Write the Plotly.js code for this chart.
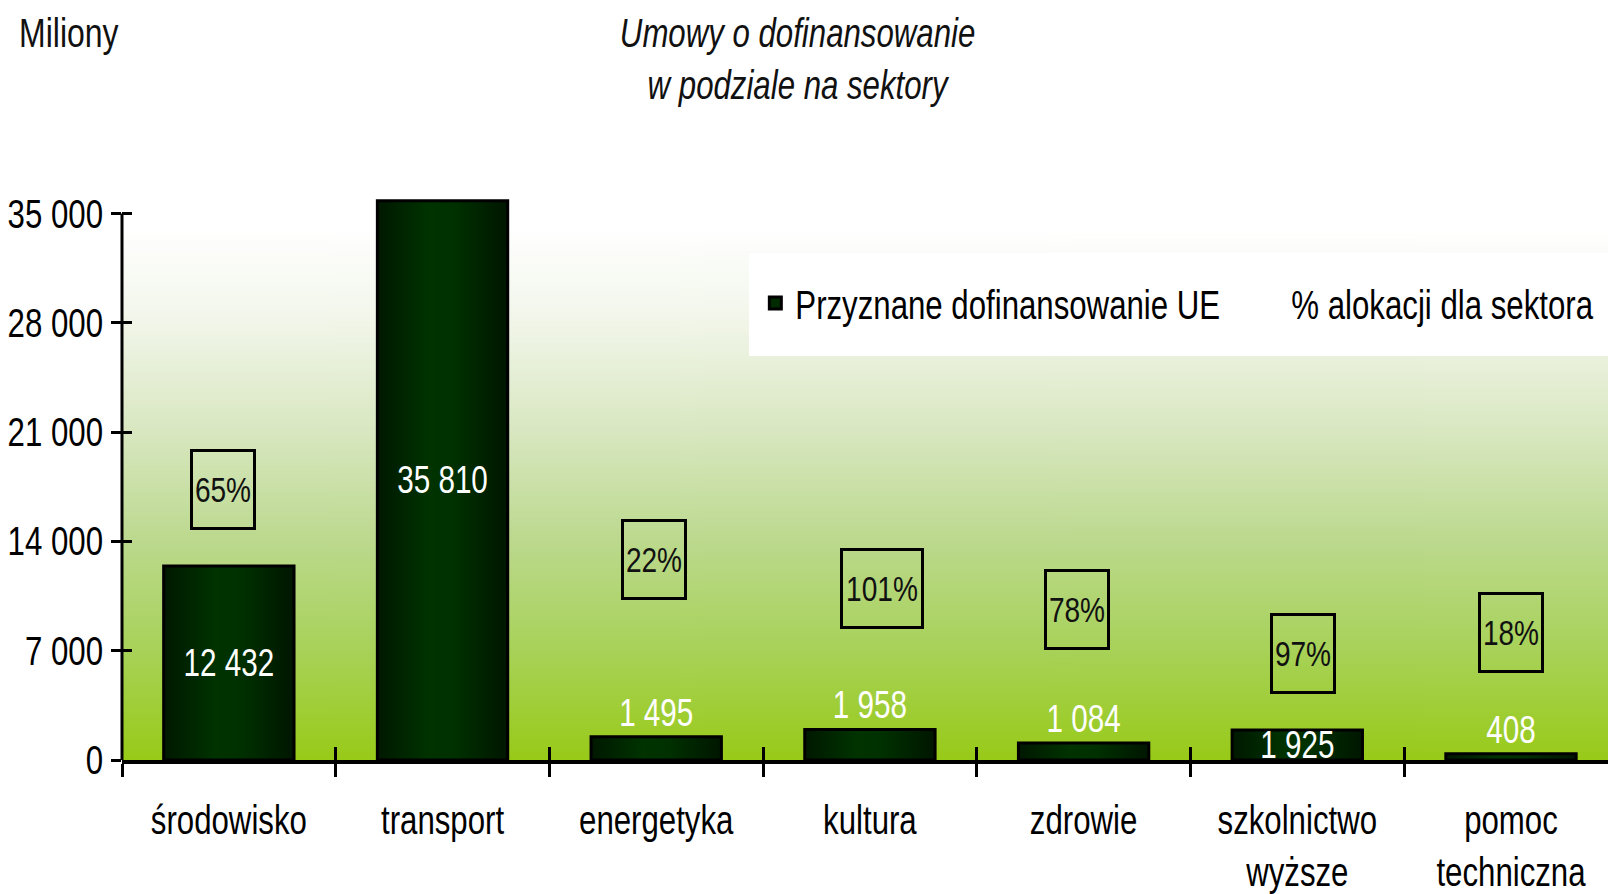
<!DOCTYPE html>
<html><head><meta charset="utf-8">
<script src="https://cdn.plot.ly/plotly-3.0.1.min.js"></script>
<style>html,body{margin:0;padding:0;background:#fff}#chart{width:1608px;height:894px}</style>
</head><body><div id="chart"></div>
<script>
// ---- data ----
const categories = ['środowisko', 'transport', 'energetyka', 'kultura', 'zdrowie', 'szkolnictwo<br>wyższe', 'pomoc<br>techniczna'];
const fundingEU = [12432, 35810, 1495, 1958, 1084, 1925, 408];
const allocationPct = [65, 47, 22, 101, 78, 97, 18];
const yTickVals = [0, 7000, 14000, 21000, 28000, 35000];
const seriesNames = ['Przyznane dofinansowanie UE', '% alokacji dla sektora'];
const titleLines = ['Umowy o dofinansowanie', 'w podziale na sektory'];
const unitLabel = 'Miliony';

// ---- label placement (layout only) ----
const valueLabelPos = ['inside', 'inside', 'outside', 'outside', 'outside', 'inside', 'outside'];
const pctBoxY = [17356, 38683, 12873, 10952, 9671, 6853, 8134];
const pctBoxShift = [-6, -5, -2, 12, -7, 6, 0];

const FONT = '"Liberation Sans", Arial, sans-serif';
const SX = 0.78; // horizontal condensing of all text (narrow face look)
const X_RANGE = [-0.5, 6.454];
const Y_RANGE = [0, 36185];

// background gradient for the plot area
const cv = document.createElement('canvas');
cv.width = 4; cv.height = 565;
const ctx = cv.getContext('2d');
const grd = ctx.createLinearGradient(0, 0, 0, 565);
grd.addColorStop(0.0, '#ffffff');
grd.addColorStop(0.06, '#ffffff');
grd.addColorStop(0.22, '#f2f6ea');
grd.addColorStop(0.42, '#d8e7c0');
grd.addColorStop(0.61, '#bcd98e');
grd.addColorStop(0.80, '#a8d25a');
grd.addColorStop(1.0, '#98ca18');
ctx.fillStyle = grd;
ctx.fillRect(0, 0, 4, 565);
const bgURL = cv.toDataURL('image/png');

const traces = [
  {
    type: 'bar',
    x: categories,
    y: fundingEU,
    name: seriesNames[0],
    width: 0.61,
    marker: {color: '#002a00', line: {color: '#000', width: 3}},
    texttemplate: '%{y:,d}',
    textposition: valueLabelPos,
    insidetextanchor: 'middle',
    textangle: 0,
    constraintext: 'none',
    textfont: {color: '#ffffff', size: 38, family: FONT},
    cliponaxis: false,
    hoverinfo: 'x+y'
  },
  {
    type: 'scatter',
    mode: 'markers',
    x: categories,
    y: pctBoxY,
    xaxis: 'x2', yaxis: 'y2',
    name: seriesNames[1],
    customdata: allocationPct,
    marker: {color: 'rgba(0,0,0,0)', size: 1, line: {width: 0}},
    hovertemplate: '%{customdata}%<extra></extra>'
  }
];

const annotations = allocationPct.map((p, i) => ({
  xref: 'x', yref: 'y', x: categories[i], y: pctBoxY[i],
  xshift: pctBoxShift[i],
  text: p + '%', showarrow: false,
  font: {family: FONT, size: 36, color: '#111'},
  width: String(p).length > 2 ? 78 : 60,
  height: 75,
  align: 'center', valign: 'middle',
  bordercolor: '#000', borderwidth: 3, borderpad: 0
}));
annotations.push({
  xref: 'paper', yref: 'paper', x: -0.0798, y: 1.2867,
  xanchor: 'left', yanchor: 'middle',
  text: unitLabel, showarrow: false,
  font: {family: FONT, size: 41, color: '#111'}
});

const axisFont = {family: FONT, size: 40, color: '#000'};

const layout = {
  width: 1608, height: 894,
  margin: {l: 122, r: 0, t: 195, b: 134, pad: 0, autoexpand: false},
  paper_bgcolor: '#ffffff',
  plot_bgcolor: 'rgba(0,0,0,0)',
  separators: ', ',
  font: {family: FONT, size: 40, color: '#000'},
  title: {
    text: '<i>' + titleLines.join('<br>') + '</i>',
    font: {family: FONT, size: 40, color: '#111'},
    xref: 'container', x: 0.496, xanchor: 'center',
    yref: 'container', y: 0.9474, yanchor: 'top'
  },
  showlegend: true,
  legend: {
    orientation: 'h', x: 0.4262, xanchor: 'left', y: 0.8088, yanchor: 'middle',
    bgcolor: 'rgba(0,0,0,0)', borderwidth: 0,
    font: {family: FONT, size: 40, color: '#000'},
    entrywidth: 451, entrywidthmode: 'pixels',
    traceorder: 'normal'
  },
  xaxis: {
    type: 'category',
    range: X_RANGE,
    showline: true, linecolor: '#000', linewidth: 4,
    ticks: 'outside', ticklen: 13, tickwidth: 3, tickcolor: '#000',
    tickson: 'boundaries', tickangle: 0, ticklabelstandoff: 22,
    showgrid: false, zeroline: false,
    tickfont: axisFont,
    fixedrange: true
  },
  xaxis2: {
    type: 'category', overlaying: 'x', side: 'bottom', anchor: 'y2',
    range: X_RANGE,
    showline: false,
    ticks: 'inside', ticklen: 13, tickwidth: 3, tickcolor: '#000',
    tickson: 'boundaries', showticklabels: false,
    showgrid: false, zeroline: false, fixedrange: true
  },
  yaxis: {
    range: Y_RANGE,
    tickmode: 'array', tickvals: yTickVals,
    tickformat: ',d',
    ticks: 'outside', ticklen: 10, tickwidth: 3, tickcolor: '#000',
    showline: false, showgrid: false, zeroline: false,
    tickfont: axisFont,
    fixedrange: true
  },
  yaxis2: {
    overlaying: 'y', side: 'left', anchor: 'x2',
    range: Y_RANGE,
    tickmode: 'array', tickvals: yTickVals,
    ticks: 'inside', ticklen: 10, tickwidth: 3, tickcolor: '#000',
    showticklabels: false,
    showline: false, showgrid: false, zeroline: false, fixedrange: true
  },
  images: [{
    source: bgURL, xref: 'paper', yref: 'paper',
    x: 0, y: 1, sizex: 1, sizey: 1, sizing: 'stretch',
    xanchor: 'left', yanchor: 'top', layer: 'below'
  }],
  shapes: [
    {type: 'rect', xref: 'paper', yref: 'paper', x0: 0.4219, x1: 1.0, y0: 0.715, y1: 0.8973,
     fillcolor: '#ffffff', line: {width: 0}, layer: 'below'},
    {type: 'line', xref: 'paper', yref: 'y', x0: 0, x1: 0, y0: 0, y1: yTickVals[yTickVals.length - 1],
     line: {color: '#000', width: 3}}
  ],
  annotations: annotations,
  bargap: 0.39
};

function finishStyling(gd) {
  // horizontal bar shading (dark edges, lighter middle)
  const ns = 'http://www.w3.org/2000/svg';
  const svg = gd.querySelector('.main-svg');
  let defs = svg.querySelector('defs');
  if (!defs) { defs = document.createElementNS(ns, 'defs'); svg.insertBefore(defs, svg.firstChild); }
  const lg = document.createElementNS(ns, 'linearGradient');
  lg.setAttribute('id', 'barShade');
  lg.setAttribute('x1', '0'); lg.setAttribute('y1', '0');
  lg.setAttribute('x2', '1'); lg.setAttribute('y2', '0');
  [['0', '#001800'], ['0.4', '#003300'], ['0.6', '#003000'], ['1', '#001600']].forEach(s => {
    const st = document.createElementNS(ns, 'stop');
    st.setAttribute('offset', s[0]); st.setAttribute('stop-color', s[1]);
    lg.appendChild(st);
  });
  defs.appendChild(lg);
  gd.querySelectorAll('.barlayer .point path').forEach(p => { p.style.fill = 'url(#barShade)'; });

  // narrow-face look for all texts
  gd.querySelectorAll('.annotation [clip-path], .annotation-text-g [clip-path]').forEach(e => e.removeAttribute('clip-path'));
  gd.querySelectorAll('svg text').forEach(t => {
    if (t.getAttribute('data-cond')) return;
    const x = parseFloat(t.getAttribute('x')) || 0;
    const y = parseFloat(t.getAttribute('y')) || 0;
    const tr = t.getAttribute('transform') || '';
    t.setAttribute('transform', tr + ' translate(' + x + ',' + y + ') scale(' + SX + ',1) translate(' + (-x) + ',' + (-y) + ')');
    t.setAttribute('data-cond', '1');
  });
}

const gd = document.getElementById('chart');
Plotly.newPlot(gd, traces, layout, {displayModeBar: false, staticPlot: true}).then(() => finishStyling(gd));
</script>
</body></html>
